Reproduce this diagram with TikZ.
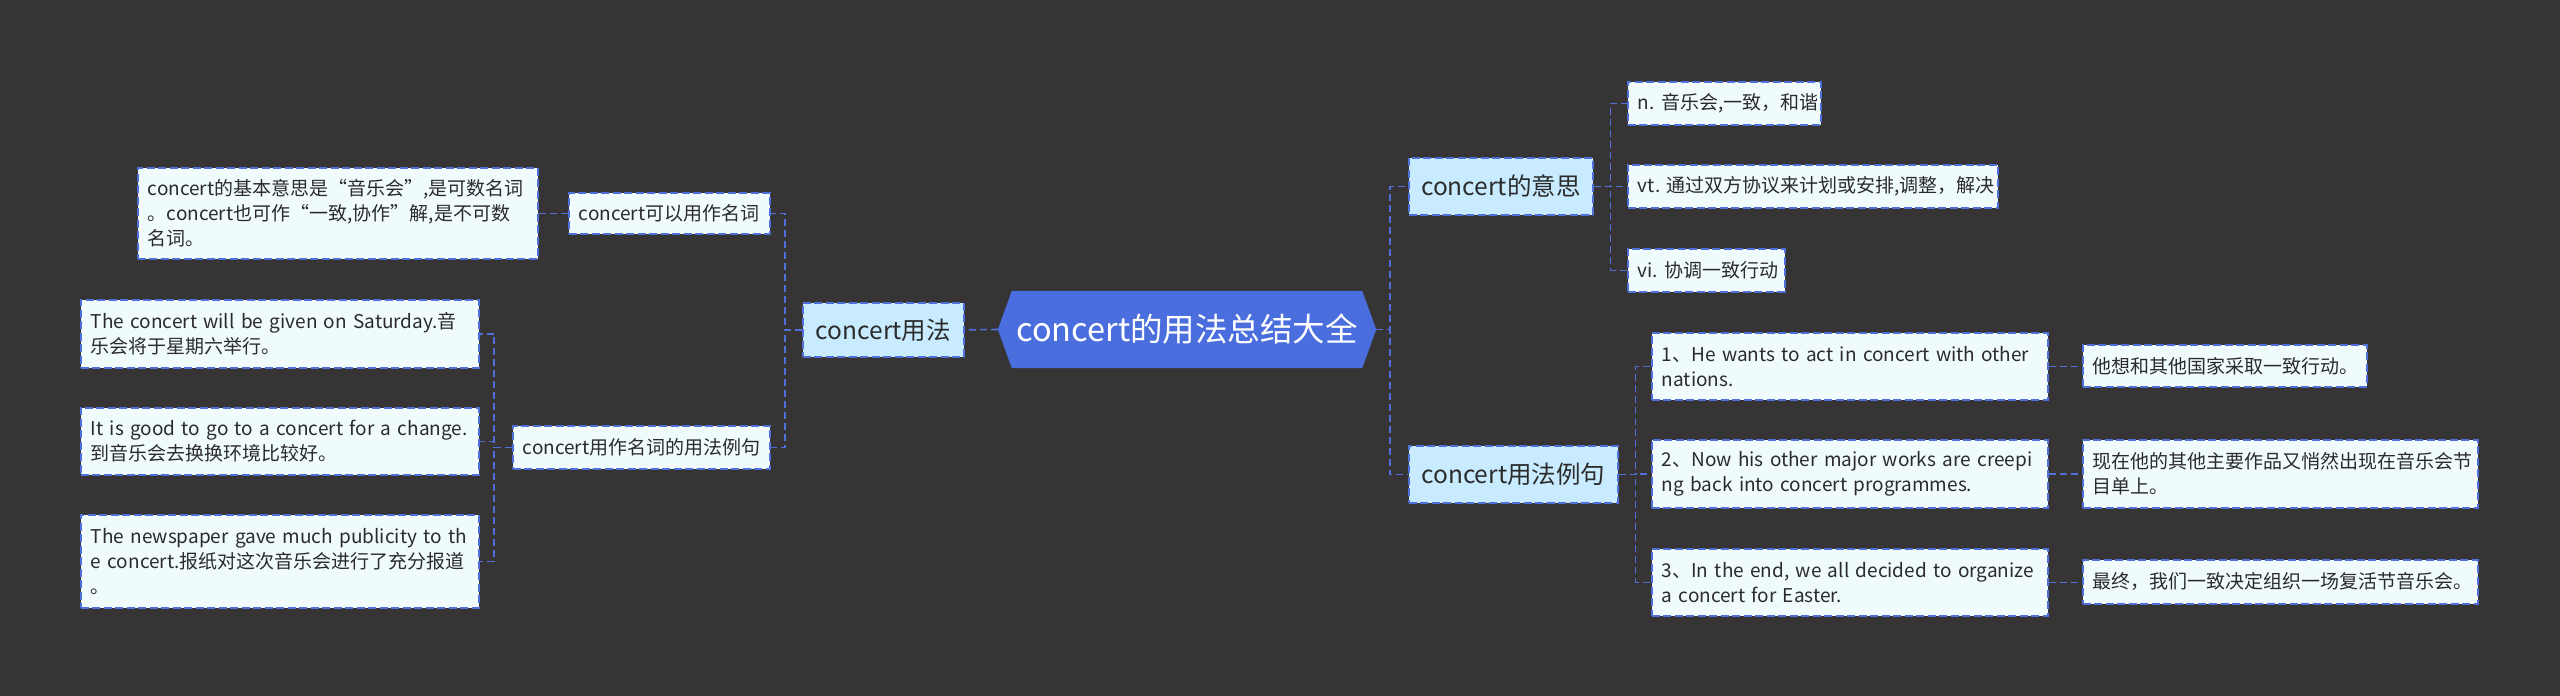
\documentclass[tikz,border=0pt]{standalone}
\usepackage{fontspec}
\setmainfont{Noto Sans CJK SC}
\usetikzlibrary{backgrounds}
\definecolor{bgc}{HTML}{363435}
\definecolor{rootc}{HTML}{4A6EDD}
\definecolor{linec}{HTML}{4F70D8}
\definecolor{leaffill}{HTML}{F0FBFE}
\definecolor{midfill}{HTML}{C8EBFF}
\definecolor{txt}{HTML}{2B2B2B}
\tikzset{
 boxbase/.style={draw=linec, line width=1.6pt, dash pattern=on 8pt off 3.5pt, inner sep=0pt, text=txt, anchor=north west},
 leaf/.style={boxbase, fill=leaffill, align=left, font=\fontsize{19}{25}\selectfont},
 mid/.style={boxbase, fill=midfill, align=center, font=\fontsize{24.5}{30}\selectfont},
 conn/.style={draw=linec, line width=1.6pt, dash pattern=on 7pt off 4pt},
}
% leaf box: left-aligned text with 10pt padding
\newcommand\mybox[7]{%
 \pgfmathsetmacro\myboxw{#5-#3}\pgfmathsetmacro\myboxh{#6-#4}\pgfmathsetmacro\myboxt{#5-#3-20}%
 \node[#2, minimum width=\myboxw pt, minimum height=\myboxh pt, text width=\myboxt pt] (#1) at (#3pt,-#4pt) {#7};}
% mid box: centred single line
\newcommand\mymid[6]{%
 \pgfmathsetmacro\myboxw{#4-#2}\pgfmathsetmacro\myboxh{#5-#3}%
 \node[mid, minimum width=\myboxw pt, minimum height=\myboxh pt] (#1) at (#2pt,-#3pt) {#6};}
\begin{document}
\begin{tikzpicture}
\useasboundingbox (0,0) rectangle (2560pt,-696pt);
\begin{scope}[on background layer]
\fill[bgc] (0,0) rectangle (2560pt,-696pt);
\end{scope}
% root
\node[font=\fontsize{32.5}{38}\selectfont, text=white, minimum width=378pt, minimum height=77pt, inner sep=0pt] (root) at (1187pt,-329.5pt) {concert的用法总结大全};
\begin{scope}[on background layer]
\fill[rootc] (root.west) -- ([xshift=14pt]root.north west) -- ([xshift=-14pt]root.north east) -- (root.east) -- ([xshift=-14pt]root.south east) -- ([xshift=14pt]root.south west) -- cycle;
\end{scope}
% left branch
\mymid{usage}{802}{302}{963}{356}{concert用法}
\mybox{nounuse}{leaf}{568}{192}{769}{233}{concert可以用作名词}
\mybox{nounex}{leaf}{512}{425}{769}{468}{concert用作名词的用法例句}
\mybox{basic}{leaf}{137}{167}{537}{258}{concert的基本意思是“音乐会”,是可数名词\\。concert也可作“一致,协作”解,是不可数\\名词。}
\mybox{exA}{leaf}{80}{299}{478}{367}{The concert will be given on Saturday.音\\乐会将于星期六举行。}
\mybox{exB}{leaf}{80}{407}{478}{474}{It is good to go to a concert for a change.\\到音乐会去换换环境比较好。}
\mybox{exC}{leaf}{80}{514}{478}{607}{The newspaper gave much publicity to th\\e concert.报纸对这次音乐会进行了充分报道\\。}
% right branch
\mymid{meaning}{1408}{157}{1592}{214}{concert的意思}
\mybox{mn}{leaf}{1627}{81}{1820}{124}{n.~音乐会,一致，和谐}
\mybox{mvt}{leaf}{1627}{164}{1997}{207}{vt.~通过双方协议来计划或安排,调整，解决}
\mybox{mvi}{leaf}{1627}{248}{1784}{291}{vi.~协调一致行动}
\mymid{examples}{1408}{445}{1617}{502}{concert用法例句}
\mybox{ea}{leaf}{1651}{332}{2047}{399}{1、He wants to act in concert with other\\nations.}
\mybox{eb}{leaf}{1651}{439}{2047}{507}{2、Now his other major works are creepi\\ng back into concert programmes.}
\mybox{ec}{leaf}{1651}{548}{2047}{615}{3、In the end, we all decided to organize\\a concert for Easter.}
\mybox{ta}{leaf}{2082}{344}{2366}{386}{他想和其他国家采取一致行动。}
\mybox{tb}{leaf}{2082}{439}{2477}{507}{现在他的其他主要作品又悄然出现在音乐会节\\目单上。}
\mybox{tc}{leaf}{2082}{559}{2477}{603}{最终，我们一致决定组织一场复活节音乐会。}
% connectors
\draw[conn] (root.west) -- (usage.east);
\draw[conn] (usage.west) -- ++(-17pt,0) |- (nounuse.east);
\draw[conn] (usage.west) -- ++(-17pt,0) |- (nounex.east);
\draw[conn] (nounuse.west) -- (basic.east);
\draw[conn] (nounex.west) -- ++(-18pt,0) |- (exA.east);
\draw[conn] (nounex.west) -- ++(-18pt,0) |- (exB.east);
\draw[conn] (nounex.west) -- ++(-18pt,0) |- (exC.east);
\draw[conn] (root.east) -- ++(14pt,0) |- (meaning.west);
\draw[conn] (root.east) -- ++(14pt,0) |- (examples.west);
\draw[conn] (meaning.east) -- ++(17pt,0) |- (mn.west);
\draw[conn] (meaning.east) -- ++(17pt,0) |- (mvt.west);
\draw[conn] (meaning.east) -- ++(17pt,0) |- (mvi.west);
\draw[conn] (examples.east) -- ++(17pt,0) |- (ea.west);
\draw[conn] (examples.east) -- ++(17pt,0) |- (eb.west);
\draw[conn] (examples.east) -- ++(17pt,0) |- (ec.west);
\draw[conn] (ea.east) -- (ea.east -| ta.west);
\draw[conn] (eb.east) -- (eb.east -| tb.west);
\draw[conn] (ec.east) -- (ec.east -| tc.west);
\end{tikzpicture}
\end{document}
